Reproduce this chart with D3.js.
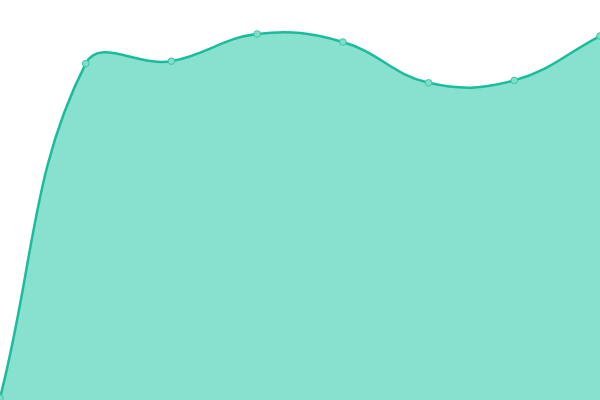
<!DOCTYPE html>
<html>
<head>
<meta charset="utf-8">
<script src="https://cdn.jsdelivr.net/npm/d3@7"></script>
<style>
  body { margin: 0; background: #fff; }
</style>
</head>
<body>
<svg width="600" height="400"></svg>
<script>
const labels = [0, 1, 2, 3, 4, 5, 6, 7];
const values = [0.5, 84.1, 84.7, 91.5, 89.5, 79.3, 79.9, 91];

const svg = d3.select('svg');
const WIDTH = +svg.attr('width');
const HEIGHT = +svg.attr('height');

const xScale = d3.scaleLinear().domain([0, labels.length - 1]).range([0, WIDTH]);
const yScale = d3.scaleLinear().domain([0, 100]).range([HEIGHT, 0]);

// spline with tension 0.4, control points kept inside the chart
let splinePath = (pts, tension, closeBottom) => {
    const clampX = v => Math.max(0, Math.min(WIDTH, v));
    const clampY = v => Math.max(0, Math.min(HEIGHT, v));
    const cps = pts.map((p, i) => {
        const prev = pts[i - 1] || p;
        const next = pts[i + 1] || p;
        const d01 = Math.hypot(p[0] - prev[0], p[1] - prev[1]);
        const d12 = Math.hypot(next[0] - p[0], next[1] - p[1]);
        let s01 = d01 / (d01 + d12 || 1);
        let s12 = d12 / (d01 + d12 || 1);
        const fa = tension * s01, fb = tension * s12;
        return {
            prev: [clampX(p[0] - fa * (next[0] - prev[0])), clampY(p[1] - fa * (next[1] - prev[1]))],
            next: [clampX(p[0] + fb * (next[0] - prev[0])), clampY(p[1] + fb * (next[1] - prev[1]))]
        };
    });
    const path = d3.path();
    path.moveTo(pts[0][0], pts[0][1]);
    for (let i = 1; i < pts.length; i++) {
        const a = cps[i - 1].next, b = cps[i].prev;
        path.bezierCurveTo(a[0], a[1], b[0], b[1], pts[i][0], pts[i][1]);
    }
    if (closeBottom) {
        path.lineTo(pts[pts.length - 1][0], HEIGHT);
        path.lineTo(pts[0][0], HEIGHT);
        path.closePath();
    }
    return path.toString();
}

const points = values.map((v, i) => [xScale(labels[i]), yScale(v)]);

svg.append('path')
    .attr('d', splinePath(points, 0.4, true))
    .style('fill', '#88e0cf');

svg.append('path')
    .attr('d', splinePath(points, 0.4, false))
    .style('fill', 'none')
    .style('stroke', '#1abc9c')
    .style('stroke-width', 2.5);

svg.selectAll('.dot')
    .data(values)
    .enter().append('circle')
    .attr('class', 'dot')
    .attr('cx', (d, i) => xScale(labels[i]))
    .attr('cy', d => yScale(d))
    .attr('r', 3.3)
    .style('fill', '#80dec9')
    .style('stroke', '#3cc7a8')
    .style('stroke-width', 1);
</script>
</body>
</html>
